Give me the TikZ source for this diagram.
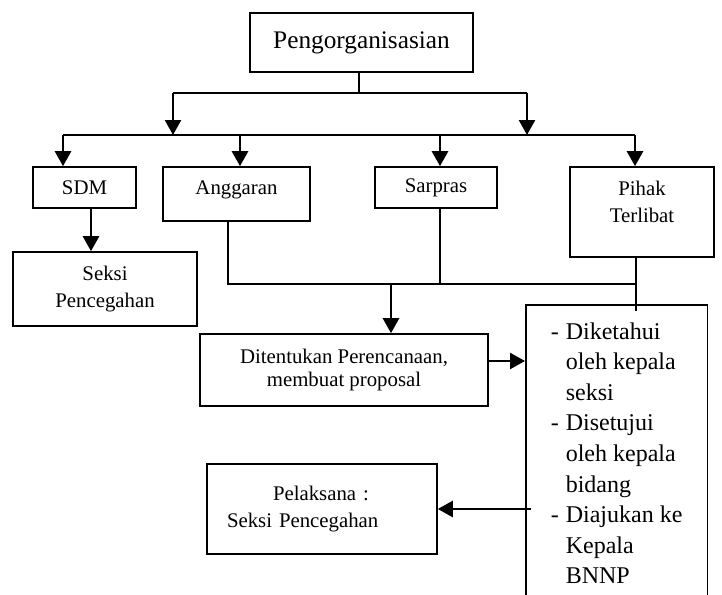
\documentclass[tikz,border=0pt]{standalone}
\usepackage{fontspec}
\setmainfont{Liberation Serif}
\usetikzlibrary{calc}
\usetikzlibrary{arrows.meta}

\newcommand{\dashitem}{\makebox[15pt][l]{-}}
\newcommand{\indentline}{\hspace*{15pt}}

\tikzset{
  box/.style={draw, line width=1.6pt, inner sep=0pt, align=center,
    font=\fontsize{20.8}{27}\selectfont},
  link/.style={line width=1.5pt},
  arrow/.style={line width=2.5pt, -{Triangle[length=15pt,width=16pt]}},
}

\begin{document}
\begin{tikzpicture}[x=1pt,y=-1pt]
    \def\W{722}  % width of the picture
    \def\H{594}  % height of the picture

    \useasboundingbox (0,0) rectangle (\W,\H);
    \clip (0,0) rectangle (\W,\H);

    % Draw the boxes
    \node[box, minimum width=223pt, minimum height=59pt,
      font=\fontsize{25.3}{30}\selectfont] (org) at (361.5,42.5) {Pengorganisasian};
    \node[box, minimum width=103pt, minimum height=41pt] (sdm) at (84.5,187.5) {SDM};
    \node[box, minimum width=147pt, minimum height=54pt, text depth=12.5pt] (ang) at (236.5,194) {Anggaran};
    \node[box, minimum width=122pt, minimum height=41pt] (sar) at (436,187.5) {Sarpras};
    \node[box, minimum width=144pt, minimum height=90pt, text depth=20pt] (pihak) at (642,212) {Pihak\\Terlibat};
    \node[box, minimum width=184pt, minimum height=74pt] (seksi) at (105,289) {Seksi\\Pencegahan};
    \node[box, minimum width=288pt, minimum height=72pt] (plan) at (344,370)
      {Ditentukan Perencanaan,\\[-4pt]membuat proposal};
    \node[box, text width=190pt, align=left, inner xsep=20pt, minimum height=90pt] (exec) at (322,509)
      {\hspace*{46pt}Pelaksana :\\Seksi Pencegahan};
    \node[box, anchor=north west, align=left, inner xsep=25pt, inner ysep=17.7pt, minimum width=180pt,
      font=\fontsize{24}{30.6}\selectfont] (steps) at (525,304)
      {\dashitem Diketahui\\\indentline oleh kepala\\\indentline seksi\\
       \dashitem Disetujui\\\indentline oleh kepala\\\indentline bidang\\
       \dashitem Diajukan ke\\\indentline Kepala\\\indentline BNNP};

    % Coordinates of the junctions
    \coordinate (hub) at (359,93);
    \coordinate (hubL) at (173,93);
    \coordinate (hubR) at (527,93);
    \coordinate (busL) at (63,135);
    \coordinate (busR) at (635,135);
    \coordinate (mergeL) at (228,284);
    \coordinate (mergeS) at (440,284);
    \coordinate (mergeR) at (636,284);
    \coordinate (drop) at (391,284);
    \coordinate (tail) at (636,311);

    % Draw the tree from the top box
    \draw[link] (org.south -| hub) -- (hub);
    \draw[link] (hubL) -- (hubR);
    \draw[arrow] (hubL) -- (hubL |- busL);
    \draw[arrow] (hubR) -- (hubR |- busL);
    \draw[link] (busL) -- (busR);
    \foreach \x/\n in {63/sdm, 240/ang, 440/sar, 635/pihak}
      \draw[arrow] (\x,135) -- (\n.north -| \x,135);

    % Draw the link from SDM
    \draw[arrow] ([xshift=6.5pt]sdm.south) -- ([xshift=6.5pt]sdm.south |- seksi.north);

    % Draw the lines that join below the boxes
    \draw[link] (ang.south -| mergeL) -- (mergeL) -- (mergeR);
    \draw[link] (sar.south -| mergeS) -- (mergeS);
    \draw[link] (pihak.south -| tail) -- (tail);
    \draw[arrow] (drop) -- (drop |- plan.north);

    % Draw the arrows to and from the right box
    \draw[arrow] ([yshift=9pt]plan.east) -- ([yshift=9pt]plan.east -| steps.west);
    \draw[arrow] ([xshift=6pt]steps.west |- exec.east) -- (exec.east);
\end{tikzpicture}
\end{document}
